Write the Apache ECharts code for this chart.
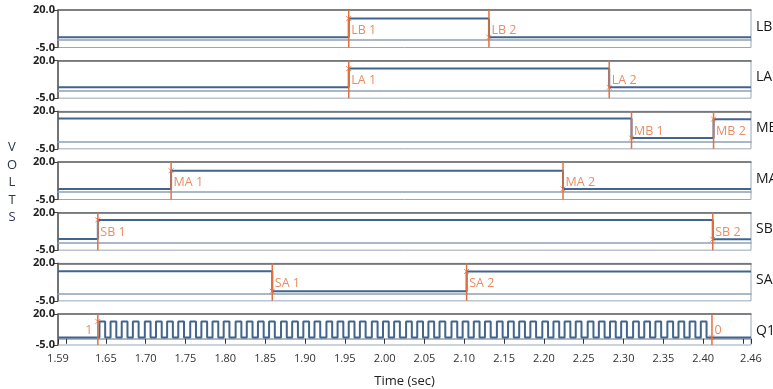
<!DOCTYPE html>
<html>
<head>
<meta charset="utf-8">
<script src="https://cdn.jsdelivr.net/npm/echarts@6/dist/echarts.min.js"></script>
<style>
  html, body { margin: 0; padding: 0; background: #fff; }
  #chart { width: 773px; height: 389px; }
</style>
</head>
<body>
<div id="chart"></div>
<script>
// axis data
const xMin = 1.59, xMax = 2.46;
const xTicks = [1.59, 1.60, 1.65, 1.70, 1.75, 1.80, 1.85, 1.90, 1.95, 2.00, 2.05, 2.10, 2.15,
  2.20, 2.25, 2.30, 2.35, 2.40, 2.45, 2.46];
const xLabels = [1.59, 1.65, 1.70, 1.75, 1.80, 1.85, 1.90, 1.95, 2.00, 2.05, 2.10, 2.15,
  2.20, 2.25, 2.30, 2.35, 2.40, 2.46];
const yTicks = [-5, 20];
const panelNames = ['LB', 'LA', 'MB', 'MA', 'SB', 'SA', 'Q1'];

// signal levels: [time where the level starts, volts]
const lbSteps = [[1.59, 1.8], [1.955, 14.3], [2.131, 1.8]];
const laSteps = [[1.59, 2.3], [1.955, 14.7], [2.282, 2.2]];
const mbSteps = [[1.59, 15.2], [2.310, 2.2], [2.413, 14.8]];
const maSteps = [[1.59, 2.0], [1.732, 14.2], [2.224, 2.0]];
const sbSteps = [[1.59, 2.5], [1.640, 15.2], [2.412, 2.3]];
const saSteps = [[1.59, 14.7], [1.859, 1.4], [2.103, 14.6]];

// Q1 clock: rising edges, pulse width, levels
const q1Rises = [1.642, 1.656, 1.670, 1.684, 1.699, 1.713, 1.727, 1.741, 1.756, 1.770,
  1.784, 1.798, 1.813, 1.827, 1.841, 1.855, 1.870, 1.884, 1.898, 1.912,
  1.927, 1.941, 1.955, 1.969, 1.984, 1.998, 2.012, 2.027, 2.041, 2.055,
  2.069, 2.084, 2.098, 2.112, 2.126, 2.141, 2.155, 2.169, 2.183, 2.198,
  2.212, 2.226, 2.240, 2.255, 2.269, 2.283, 2.297, 2.312, 2.326, 2.340,
  2.355, 2.369, 2.383, 2.397];
const q1Width = 0.0072;
const q1Low = 1.0, q1High = 14.0;

// cursor markers per panel
const markNames = [['LB 1', 'LB 2'], ['LA 1', 'LA 2'], ['MB 1', 'MB 2'], ['MA 1', 'MA 2'],
  ['SB 1', 'SB 2'], ['SA 1', 'SA 2'], ['1', '0']];
const markTimes = [[1.955, 2.131], [1.955, 2.282], [2.310, 2.413], [1.732, 2.224],
  [1.640, 2.412], [1.859, 2.103], [1.640, 2.411]];
const markLevels = [[14.3, 1.8], [14.7, 2.2], [2.2, 14.8], [14.2, 2.0],
  [15.2, 2.3], [1.4, 14.6], [14.0, 1.0]];

// build q1 steps
const q1Steps = [[xMin, q1Low]];
q1Rises.forEach(t => { q1Steps.push([t, q1High]); q1Steps.push([t + q1Width, q1Low]); });

const allSteps = [lbSteps, laSteps, mbSteps, maSteps, sbSteps, saSteps, q1Steps];

// turn level changes into corner points (vertical edges)
function toTrace(steps) {
  const pts = [];
  steps.forEach((s, k) => {
    if (k > 0) pts.push([s[0], steps[k - 1][1]]);
    pts.push([s[0], s[1]]);
  });
  pts.push([xMax, steps[steps.length - 1][1]]);
  return pts;
}

const ORANGE = '#e2703f';
const LINE = '#41658e';
const FONT = 'Open Sans';
const n = panelNames.length;
const gridTop = i => 10 + i * 50.67;
const gridH = 37.5;

const grids = [], xAxes = [], yAxes = [], series = [], graphics = [];

for (let i = 0; i < n; i++) {
  const last = i === n - 1;
  grids.push({ left: 58, right: 22, top: gridTop(i), height: gridH, show: true,
    borderColor: '#9aa7b6', borderWidth: 1, backgroundColor: '#fff' });
  xAxes.push({
    type: 'value', gridIndex: i, min: xMin, max: xMax, position: 'bottom',
    axisLine: { show: true, lineStyle: { color: '#8fa0b3', width: 1.5 } },
    axisTick: { show: last, customValues: xTicks, length: 5, lineStyle: { color: '#333' } },
    axisLabel: { show: last, customValues: xLabels, margin: 8, fontSize: 11, color: '#333',
      fontFamily: FONT, formatter: v => v.toFixed(2) },
    splitLine: { show: false },
    name: last ? 'Time (sec)' : '', nameLocation: 'middle', nameGap: 30,
    nameTextStyle: { fontSize: 13, color: '#222', fontFamily: FONT }
  });
  xAxes.push({
    type: 'value', gridIndex: i, min: xMin, max: xMax, position: 'top',
    axisLine: { show: true, lineStyle: { color: '#666', width: 1.5 } },
    axisTick: { show: false }, axisLabel: { show: false }, splitLine: { show: false }
  });
  yAxes.push({
    type: 'value', gridIndex: i, min: -5, max: 20,
    axisLine: { show: true, lineStyle: { color: '#555', width: 1.5 } },
    axisTick: { show: true, customValues: yTicks, length: 5, lineStyle: { color: '#444' } },
    axisLabel: { show: true, customValues: yTicks, margin: 3, fontSize: 11, color: '#222',
      fontWeight: 'bold', fontFamily: FONT, formatter: v => v.toFixed(1) },
    splitLine: { show: false }
  });

  // signal trace
  series.push({
    type: 'line', xAxisIndex: 2 * i, yAxisIndex: i, data: toTrace(allSteps[i]),
    symbol: 'none', lineStyle: { color: LINE, width: 2 }, z: 3
  });

  // markers
  markTimes[i].forEach((t, k) => {
    series.push({
      type: 'line', xAxisIndex: 2 * i, yAxisIndex: i, data: [[t, -5], [t, 20]],
      symbol: 'none', lineStyle: { color: ORANGE, width: 1.5 }, z: 4
    });
    series.push({
      type: 'scatter', xAxisIndex: 2 * i, yAxisIndex: i, data: [[t, markLevels[i][k]]],
      symbol: 'path://M0,0L10,10M10,0L0,10', symbolSize: 5,
      itemStyle: { color: 'none', borderColor: ORANGE, borderWidth: 1 }, z: 5
    });
    const leftSide = last && k === 0;
    series.push({
      type: 'scatter', xAxisIndex: 2 * i, yAxisIndex: i, data: [[t, 6.5]],
      symbolSize: 1, itemStyle: { color: 'rgba(0,0,0,0)' }, z: 6,
      label: { show: true, position: leftSide ? 'left' : 'right', distance: leftSide ? 5 : 2,
        formatter: markNames[i][k], color: ORANGE, fontSize: 12.5, fontFamily: FONT }
    });
  });

  graphics.push({ type: 'text', x: 756, y: gridTop(i) + gridH / 2 - 9,
    style: { text: panelNames[i], font: '14px "Open Sans"', fill: '#1a1a1a' } });
}

graphics.push({ type: 'text', x: 12, y: 139,
  style: { text: 'V\nO\nL\nT\nS', font: '13px "Open Sans"', fill: '#2a3550',
    textAlign: 'center', lineHeight: 17.5 } });

const chart = echarts.init(document.getElementById('chart'));
chart.setOption({
  animation: false,
  grid: grids,
  xAxis: xAxes,
  yAxis: yAxes,
  series: series,
  graphic: graphics
});
</script>
</body>
</html>
